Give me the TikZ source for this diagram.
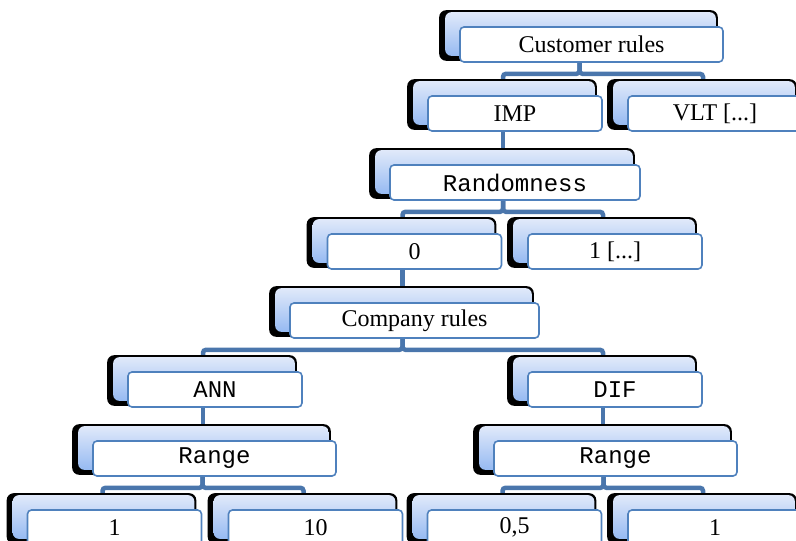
\documentclass[tikz,border=0pt]{standalone}
\usepackage{fontspec}
\setmainfont{Liberation Serif}
\setmonofont{Liberation Mono}
\usepackage{tikz}
\usetikzlibrary{positioning, calc}

\definecolor{linkblue}{RGB}{74,118,172}
\definecolor{edgeblue}{RGB}{79,129,189}
\definecolor{cardtop}{RGB}{224,233,250}
\definecolor{cardbot}{RGB}{150,186,242}

\pgfdeclarelayer{links}
\pgfdeclarelayer{cards}
\pgfsetlayers{links,cards,main}

\tikzset{
	item/.style={draw=edgeblue, line width=1.6pt, fill=white, rounded corners=4pt,
		minimum width=174pt, minimum height=35pt, inner sep=0pt,
		font=\fontsize{24}{28}\selectfont},
	code/.style={font=\fontsize{24}{28}\selectfont\ttfamily},
	link/.style={draw=linkblue, line width=4.5pt, rounded corners=3pt},
}

% shaded card with dark shadow behind a box
\newcommand{\backcard}[1]{%
	\fill[black, rounded corners=7pt] ($(#1.north west)+(-20,16)$) rectangle ($(#1.south east)+(-6,2)$);
	\shade[top color=cardtop, bottom color=cardbot, rounded corners=6pt]
		($(#1.north west)+(-14,14)$) rectangle ($(#1.south east)+(-8,7)$);
}

\begin{document}
\begin{tikzpicture}[x=1pt, y=1pt]
			\useasboundingbox (0,0) rectangle (796,-541);

			\node[item, minimum width=263pt] (cust) at (591.5, -44.5)  {Customer rules};
			\node[item] (imp)  at (515, -113.5)  {IMP};
			\node[item] (vlt)  at (715, -113.5)  {VLT [...]};
			\node[item, code, minimum width=250pt] (rand) at (515, -182.5)  {Randomness};
			\node[item] (zero) at (414.5, -251.5)  {0};
			\node[item] (one)  at (615, -251.5)  {1 [...]};
			\node[item, minimum width=249pt] (comp) at (414.5, -320.5)  {Company rules};
			\node[item, code] (ann)  at (215, -389.5)  {ANN};
			\node[item, code] (dif)  at (615, -389.5)  {DIF};
			\node[item, code, minimum width=243pt] (rngl) at (214.5, -458.5)  {Range};
			\node[item, code, minimum width=243pt] (rngr) at (615.5, -458.5)  {Range};
			\node[item] (lo)   at (114.5, -527.5)  {1};
			\node[item] (hi)   at (315.5, -527.5)  {10};
			\node[item] (dlo)  at (514.5, -527.5)  {0,5};
			\node[item] (dhi)  at (715, -527.5)  {1};

			\begin{pgfonlayer}{cards}
				\foreach \n in {cust,imp,vlt,rand,zero,one,comp,ann,dif,rngl,rngr,lo,hi,dlo,dhi}
					\backcard{\n};
			\end{pgfonlayer}

			\begin{pgfonlayer}{links}
				\draw[link] ([xshift=-12pt]cust.south) -- ++(0,-11) -| ([xshift=-12pt]imp.north);
				\draw[link] ([xshift=-12pt]cust.south) -- ++(0,-11) -| ([xshift=-12pt]vlt.north);
				\draw[link] ([xshift=-12pt]imp.south) -- ([xshift=-12pt]rand.north);
				\draw[link] ([xshift=-12pt]rand.south) -- ++(0,-11) -| ([xshift=-12pt]zero.north);
				\draw[link] ([xshift=-12pt]rand.south) -- ++(0,-11) -| ([xshift=-12pt]one.north);
				\draw[link] ([xshift=-12pt]zero.south) -- ([xshift=-12pt]comp.north);
				\draw[link] ([xshift=-12pt]comp.south) -- ++(0,-11) -| ([xshift=-12pt]ann.north);
				\draw[link] ([xshift=-12pt]comp.south) -- ++(0,-11) -| ([xshift=-12pt]dif.north);
				\draw[link] ([xshift=-12pt]ann.south) -- ([xshift=-12pt]ann.south |- rngl.north);
				\draw[link] ([xshift=-12pt]dif.south) -- ([xshift=-12pt]dif.south |- rngr.north);
				\draw[link] ([xshift=-12pt]rngl.south) -- ++(0,-11) -| ([xshift=-12pt]lo.north);
				\draw[link] ([xshift=-12pt]rngl.south) -- ++(0,-11) -| ([xshift=-12pt]hi.north);
				\draw[link] ([xshift=-12pt]rngr.south) -- ++(0,-11) -| ([xshift=-12pt]dlo.north);
				\draw[link] ([xshift=-12pt]rngr.south) -- ++(0,-11) -| ([xshift=-12pt]dhi.north);
			\end{pgfonlayer}
		\end{tikzpicture}
\end{document}
